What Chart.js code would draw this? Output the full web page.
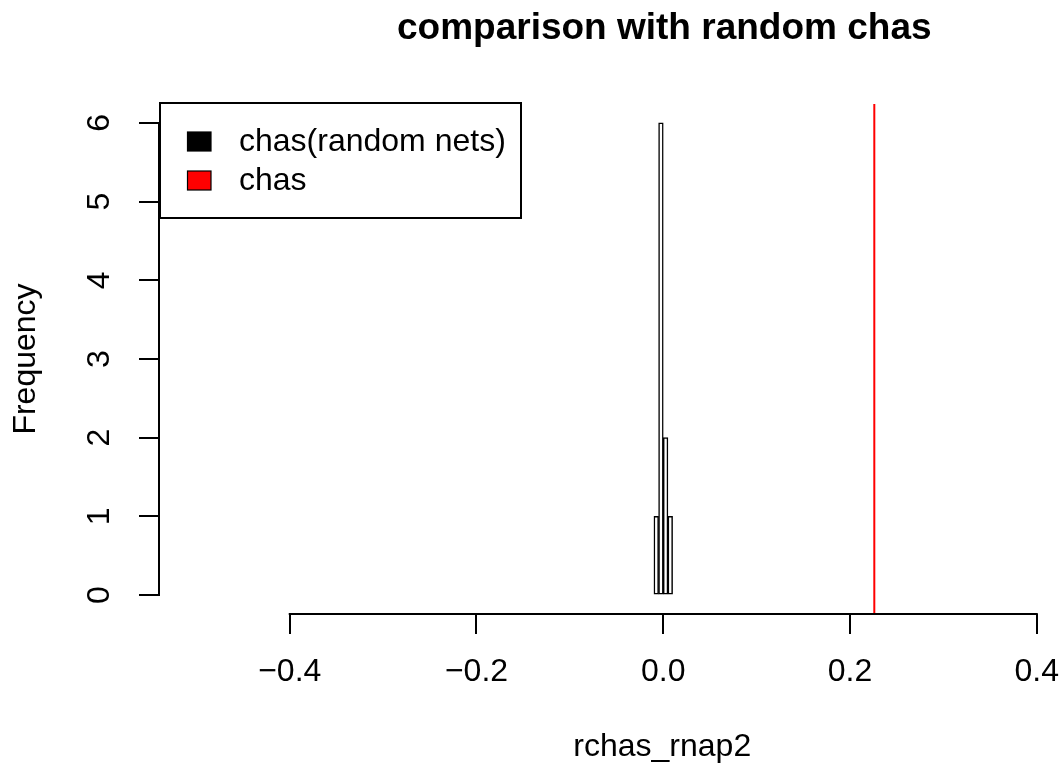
<!DOCTYPE html>
<html><head><meta charset="utf-8">
<script src="https://cdn.jsdelivr.net/npm/chart.js@4.4.1/dist/chart.umd.min.js"></script>
<style>html,body{margin:0;padding:0;background:#fff;overflow:hidden}</style>
</head><body>
<canvas id="c" width="1062" height="765"></canvas>
<script>
// ---- data ----
const binCenters = [-0.0075, -0.0025, 0.0025, 0.0075];
const binCounts = [1, 6, 2, 1];
const observedChas = 0.226;
const xTickValues = [-0.4, -0.2, 0.0, 0.2, 0.4];
const yTickValues = [0, 1, 2, 3, 4, 5, 6];
const legendLabels = ['chas(random nets)', 'chas'];
const legendColors = ['#000000', '#ff0000'];
const titleText = 'comparison with random chas';
const xLabel = 'rchas_rnap2';
const yLabel = 'Frequency';

// ---- axis limits ----
const xMin = -0.54, xMax = 0.427, yMin = -0.24, yMax = 6.24;
const FONT = 'Liberation Sans, Arial, sans-serif';
const FS = 32;

const fmtX = v => (v < 0 ? '\u2212' : '') + Math.abs(v).toFixed(1);

const rBase = {
  id: 'rBase',
  afterDatasetsDraw(chart) {
    const {ctx, chartArea, scales: {x, y}} = chart;
    ctx.save();
    ctx.strokeStyle = '#000';
    ctx.lineWidth = 2;
    ctx.lineCap = 'square';
    ctx.beginPath();
    const yb = chartArea.bottom;
    ctx.moveTo(x.getPixelForValue(xTickValues[0]), yb);
    ctx.lineTo(x.getPixelForValue(xTickValues[xTickValues.length - 1]), yb);
    const xl = chartArea.left;
    ctx.moveTo(xl, y.getPixelForValue(yTickValues[0]));
    ctx.lineTo(xl, y.getPixelForValue(yTickValues[yTickValues.length - 1]));
    ctx.stroke();
    ctx.restore();
  },
  afterDraw(chart) {
    const {ctx, scales: {x}} = chart;
    const cx = x.getPixelForValue(0) + 1;
    ctx.save();
    ctx.fillStyle = '#000';
    ctx.textAlign = 'center';
    ctx.textBaseline = 'alphabetic';
    ctx.font = 'bold 37px ' + FONT;
    ctx.fillText(titleText, cx, 38.5);
    ctx.font = FS + 'px ' + FONT;
    ctx.fillText(xLabel, cx - 2, 756);

    // legend
    const bx = 160, by = 103, bw = 361, bh = 115;
    ctx.fillStyle = '#fff';
    ctx.fillRect(bx, by, bw, bh);
    ctx.strokeStyle = '#000';
    ctx.lineWidth = 2;
    ctx.strokeRect(bx, by, bw, bh);
    const rowBase = [150.5, 189.5];
    legendLabels.forEach((lab, i) => {
      const sy = rowBase[i] - 18.5;
      ctx.fillStyle = legendColors[i];
      ctx.fillRect(187.5, sy, 23.5, 19);
      ctx.lineWidth = 1.2;
      ctx.strokeStyle = '#000';
      ctx.strokeRect(187.5, sy, 23.5, 19);
      ctx.fillStyle = '#000';
      ctx.textAlign = 'left';
      ctx.font = FS + 'px ' + FONT;
      ctx.fillText(lab, 239, rowBase[i]);
    });
    ctx.restore();
  }
};

new Chart(document.getElementById('c'), {
  type: 'bar',
  data: {
    datasets: [
      {
        type: 'bar',
        label: legendLabels[0],
        data: binCenters.map((c, i) => ({x: c, y: binCounts[i]})),
        backgroundColor: '#ffffff',
        borderColor: '#000000',
        borderWidth: 1.5,
        borderSkipped: false,
        barPercentage: 1,
        categoryPercentage: 1
      },
      {
        type: 'line',
        label: legendLabels[1],
        data: [{x: observedChas, y: yMin}, {x: observedChas, y: yMax}],
        borderColor: '#ff0000',
        borderWidth: 2,
        pointRadius: 0,
        fill: false
      }
    ]
  },
  options: {
    responsive: false,
    animation: false,
    devicePixelRatio: 1,
    events: [],
    layout: {padding: {top: 104, left: 0, right: 0, bottom: 0}},
    plugins: {legend: {display: false}, title: {display: false}, tooltip: {enabled: false}},
    scales: {
      x: {
        type: 'linear',
        min: xMin, max: xMax,
        offset: false,
        afterBuildTicks: s => { s.ticks = xTickValues.map(v => ({value: v})); },
        afterFit: s => { s.height = 151; s.paddingLeft = 0; s.paddingRight = 0; },
        border: {display: false},
        grid: {display: true, offset: false, drawOnChartArea: false, drawTicks: true, tickLength: 20, color: '#000', lineWidth: 2},
        ticks: {autoSkip: false, maxRotation: 0, minRotation: 0, padding: 19, color: '#000',
                font: {family: FONT, size: FS}, callback: v => fmtX(v)}
      },
      y: {
        type: 'linear',
        min: yMin, max: yMax,
        afterBuildTicks: s => { s.ticks = yTickValues.map(v => ({value: v})); },
        afterFit: s => { s.width = 159; s.paddingTop = 0; s.paddingBottom = 0; },
        border: {display: false},
        grid: {display: true, drawOnChartArea: false, drawTicks: true, tickLength: 20, color: '#000', lineWidth: 2},
        ticks: {autoSkip: false, minRotation: 90, maxRotation: 90, crossAlign: 'center', padding: 30, color: '#000',
                font: {family: FONT, size: FS}, callback: v => String(v)},
        title: {display: true, text: yLabel, color: '#000', font: {family: FONT, size: FS}, padding: {top: 7, bottom: 0}}
      }
    }
  },
  plugins: [rBase]
});
</script>
</body></html>
